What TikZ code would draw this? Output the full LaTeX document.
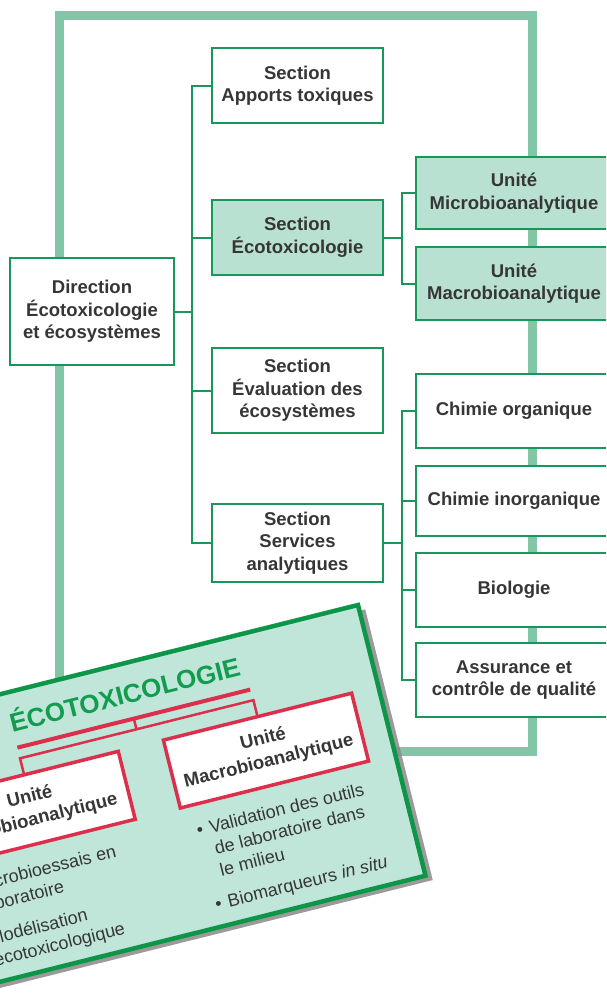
\documentclass[tikz,border=0pt]{standalone}
\usepackage{fontspec}
\setmainfont{Liberation Sans}
\definecolor{framec}{HTML}{80C6A7}
\definecolor{boxg}{HTML}{17975A}
\definecolor{tealf}{HTML}{B9E1D2}
\definecolor{txt}{HTML}{363636}
\definecolor{cardf}{HTML}{C0E6DA}
\definecolor{cardg}{HTML}{0E9648}
\definecolor{titleg}{HTML}{139C50}
\definecolor{redc}{HTML}{DC2F4C}
\definecolor{shad}{HTML}{8A8A8A}
\begin{document}
\begin{tikzpicture}[x=1pt,y=-1pt,
  box/.style={draw=boxg, line width=2pt, fill=white, text=txt,
    font=\bfseries\fontsize{18.5}{22.5}\selectfont, align=center, inner sep=0pt},
  tbox/.style={box, fill=tealf},
  conn/.style={draw=boxg, line width=2pt},
  ctitle/.style={text=titleg, font=\bfseries\fontsize{26}{30}\selectfont, inner sep=0pt, anchor=base},
  cbox/.style={draw=redc, line width=3.5pt, fill=white, text=txt, align=center,
    font=\bfseries\fontsize{18.5}{23}\selectfont, inner sep=0pt, minimum width=194pt, minimum height=70pt},
  cconn/.style={draw=redc, line width=2.5pt},
  cbar/.style={draw=redc, line width=4pt},
  ctext/.style={text=txt, font=\fontsize{18}{22}\selectfont, inner sep=0pt, anchor=base west}]
\useasboundingbox (0,0) rectangle (606,1002);
\clip (0,0) rectangle (606,1002);
\fill[white] (0,0) rectangle (606,1002);
% big frame
\draw[framec, line width=9pt] (59,15) rectangle (532,751);
% boxes
\node[box, minimum width=164pt, minimum height=107pt] (dir) at (92,311.5) {Direction\\Écotoxicologie\\et écosystèmes};
\node[box, minimum width=171pt, minimum height=75pt] (apports) at (297.5,85.5) {Section\\Apports toxiques};
\node[tbox, minimum width=171pt, minimum height=75pt] (ecotox) at (297.5,237.5) {Section\\Écotoxicologie};
\node[box, minimum width=171pt, minimum height=85pt] (eval) at (297.5,390.5) {Section\\Évaluation des\\écosystèmes};
\node[box, minimum width=171pt, minimum height=78pt] (serv) at (297.5,543) {Section\\Services\\analytiques};
\node[tbox, minimum width=196pt, minimum height=72pt] (micro) at (514,193) {Unité\\Microbioanalytique};
\node[tbox, minimum width=196pt, minimum height=73pt] (macro) at (514,283.5) {Unité\\Macrobioanalytique};
\node[box, minimum width=196pt, minimum height=74pt] (chorg) at (514,411) {Chimie organique};
\node[box, minimum width=196pt, minimum height=70pt] (chinorg) at (514,501) {Chimie inorganique};
\node[box, minimum width=196pt, minimum height=74pt] (bio) at (514,590) {Biologie};
\node[box, minimum width=196pt, minimum height=74pt] (assur) at (514,680) {Assurance et\\contrôle de qualité};
% connectors
\coordinate (trunk) at (192,0);
\coordinate (spine) at (402,0);
\draw[conn] (dir.east) -- (dir.east -| trunk);
\draw[conn] (apports.west) -- (apports.west -| trunk) -- (serv.west -| trunk) -- (serv.west);
\draw[conn] (ecotox.west) -- (ecotox.west -| trunk);
\draw[conn] (eval.west) -- (eval.west -| trunk);
\draw[conn] (ecotox.east) -- (ecotox.east -| spine);
\draw[conn] (micro.west) -- (micro.west -| spine) -- (macro.west -| spine) -- (macro.west);
\draw[conn] (serv.east) -- (serv.east -| spine);
\draw[conn] (chorg.west) -- (chorg.west -| spine) -- (assur.west -| spine) -- (assur.west);
\draw[conn] (chinorg.west) -- (chinorg.west -| spine);
\draw[conn] (bio.west) -- (bio.west -| spine);
% card
\begin{scope}[shift={(358,605)}, rotate=14, transform shape]
  \fill[shad, opacity=0.85] (-484,6) rectangle (6,285);
  \filldraw[fill=cardf, draw=cardg, line width=4.5pt] (-490,0) rectangle (0,279);
  \node[ctitle] (ttl) at (-248,40) {ÉCOTOXICOLOGIE};
  \node[cbox] (cmicro) at (-365,119) {Unité\\Microbioanalytique};
  \node[cbox] (cmacro) at (-124.5,119) {Unité\\Macrobioanalytique};
  \coordinate (barL) at (-365,56);
  \coordinate (barR) at (-125,56);
  \coordinate (stemA) at (-245,56);
  \coordinate (stemB) at (-245,67);
  \coordinate (hlL) at (-365,67);
  \coordinate (hlR) at (-124.5,67);
  \draw[cbar] (barL) -- (barR);
  \draw[cconn] (stemA) -- (stemB);
  \draw[cconn] (cmicro.north) -- (hlL) -- (hlR) -- (cmacro.north);
  % left column
  \node[ctext] (lb1) at (-451,186) {\textbullet};
  \node[ctext] (l1) at (-439,186) {Microbioessais en};
  \node[ctext] (l2) at (-439,208) {laboratoire};
  \node[ctext] (lb2) at (-451,241) {\textbullet};
  \node[ctext] (l3) at (-439,241) {Modélisation};
  \node[ctext] (l4) at (-439,263) {écotoxicologique};
  % right column
  \node[ctext] (rb1) at (-211,186) {\textbullet};
  \node[ctext] (r1) at (-198,186) {Validation des outils};
  \node[ctext] (r2) at (-198,208) {de laboratoire dans};
  \node[ctext] (r3) at (-198,230) {le milieu};
  \node[ctext] (rb2) at (-211,262) {\textbullet};
  \node[ctext] (r4) at (-198,262) {Biomarqueurs \textit{in situ}};
\end{scope}
\end{tikzpicture}
\end{document}
